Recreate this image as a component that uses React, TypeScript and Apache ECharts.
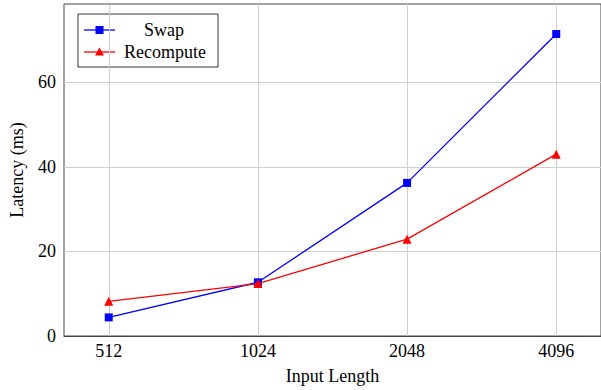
import React, { useEffect, useRef } from "react";
import * as echarts from "echarts";

const categories = ["512", "1024", "2048", "4096"];
const swapValues = [4.4, 12.7, 36.2, 71.4];
const recomputeValues = [8.2, 12.4, 22.9, 43.0];
const yTicks = [0, 20, 40, 60];

const FONT = "Liberation Serif";
const FS = 18;

export default function App() {
  const ref = useRef<HTMLDivElement>(null);
  useEffect(() => {
    if (!ref.current) return;
    const chart = echarts.init(ref.current, null, { renderer: "svg" });
    const catIdx = categories.map((_, i) => i);
    chart.setOption({
      animation: false,
      backgroundColor: "#ffffff",
      textStyle: { fontFamily: FONT },
      grid: {
        left: 62,
        top: 4,
        width: 541,
        height: 333.7,
        show: true,
        borderColor: "#444",
        borderWidth: 1,
        backgroundColor: "transparent",
      },
      xAxis: {
        type: "value",
        min: -0.3,
        max: 3.3,
        name: "Input Length",
        nameLocation: "middle",
        nameGap: 31,
        nameTextStyle: { fontFamily: FONT, fontSize: FS, color: "#000" },
        axisLine: { show: true, lineStyle: { color: "#444", width: 1 } },
        axisTick: {
          show: true,
          inside: true,
          length: 4,
          customValues: catIdx,
          lineStyle: { color: "#444" },
        },
        axisLabel: {
          customValues: catIdx,
          formatter: (v: number) => categories[Math.round(v)] ?? "",
          fontFamily: FONT,
          fontSize: FS,
          color: "#000",
          margin: 6,
        },
        splitLine: { show: false },
      },
      yAxis: {
        type: "value",
        min: 0,
        max: 78.5,
        name: "Latency (ms)",
        nameLocation: "middle",
        nameGap: 38,
        nameTextStyle: { fontFamily: FONT, fontSize: FS, color: "#000" },
        axisLine: { show: true, lineStyle: { color: "#444", width: 1 } },
        axisTick: {
          show: true,
          inside: true,
          length: 4,
          customValues: yTicks,
          lineStyle: { color: "#444" },
        },
        axisLabel: {
          customValues: yTicks,
          fontFamily: FONT,
          fontSize: FS,
          color: "#000",
          margin: 8,
        },
        splitLine: { show: false },
      },
      series: [
        {
          name: "grid",
          type: "line",
          data: [],
          silent: true,
          z: 1,
          markLine: {
            silent: true,
            symbol: "none",
            label: { show: false },
            lineStyle: { color: "#cfcfcf", width: 1, type: "solid" },
            data: [
              ...catIdx.map((i) => ({ xAxis: i })),
              ...yTicks.filter((v) => v > 0).map((v) => ({ yAxis: v })),
            ],
          },
        },
        {
          name: "Swap",
          type: "line",
          data: swapValues.map((v, i) => [i, v]),
          symbol: "rect",
          symbolSize: 8,
          lineStyle: { color: "#0000ff", width: 1.3 },
          itemStyle: { color: "#0000ff", borderWidth: 0 },
          z: 5,
        },
        {
          name: "Recompute",
          type: "line",
          data: recomputeValues.map((v, i) => [i, v]),
          symbol: "triangle",
          symbolSize: 9,
          lineStyle: { color: "#ff0000", width: 1.3 },
          itemStyle: { color: "#ff0000", borderWidth: 0 },
          z: 6,
        },
      ],
      graphic: [
        {
          type: "group",
          z: 100,
          children: [
            {
              type: "rect",
              shape: { x: 78, y: 14, width: 140, height: 53 },
              style: { fill: "#fff", stroke: "#333", lineWidth: 1 },
            },
            {
              type: "line",
              shape: { x1: 84, y1: 30, x2: 115, y2: 30 },
              style: { stroke: "#0000ff", lineWidth: 1.3 },
            },
            {
              type: "rect",
              shape: { x: 95.5, y: 26, width: 8, height: 8 },
              style: { fill: "#0000ff" },
            },
            {
              type: "text",
              x: 164,
              y: 30,
              style: {
                text: "Swap",
                fontFamily: FONT,
                fontSize: FS,
                fill: "#000",
                align: "center",
                verticalAlign: "middle",
              },
            },
            {
              type: "line",
              shape: { x1: 84, y1: 52, x2: 115, y2: 52 },
              style: { stroke: "#ff0000", lineWidth: 1.3 },
            },
            {
              type: "polygon",
              shape: { points: [[95, 55.5], [104, 55.5], [99.5, 47.5]] },
              style: { fill: "#ff0000" },
            },
            {
              type: "text",
              x: 165,
              y: 52,
              style: {
                text: "Recompute",
                fontFamily: FONT,
                fontSize: FS,
                fill: "#000",
                align: "center",
                verticalAlign: "middle",
              },
            },
          ],
        },
      ],
    });
    return () => chart.dispose();
  }, []);
  return (
    <div
      ref={ref}
      style={{ position: "absolute", left: 0, top: 0, width: 601, height: 390 }}
    />
  );
}
